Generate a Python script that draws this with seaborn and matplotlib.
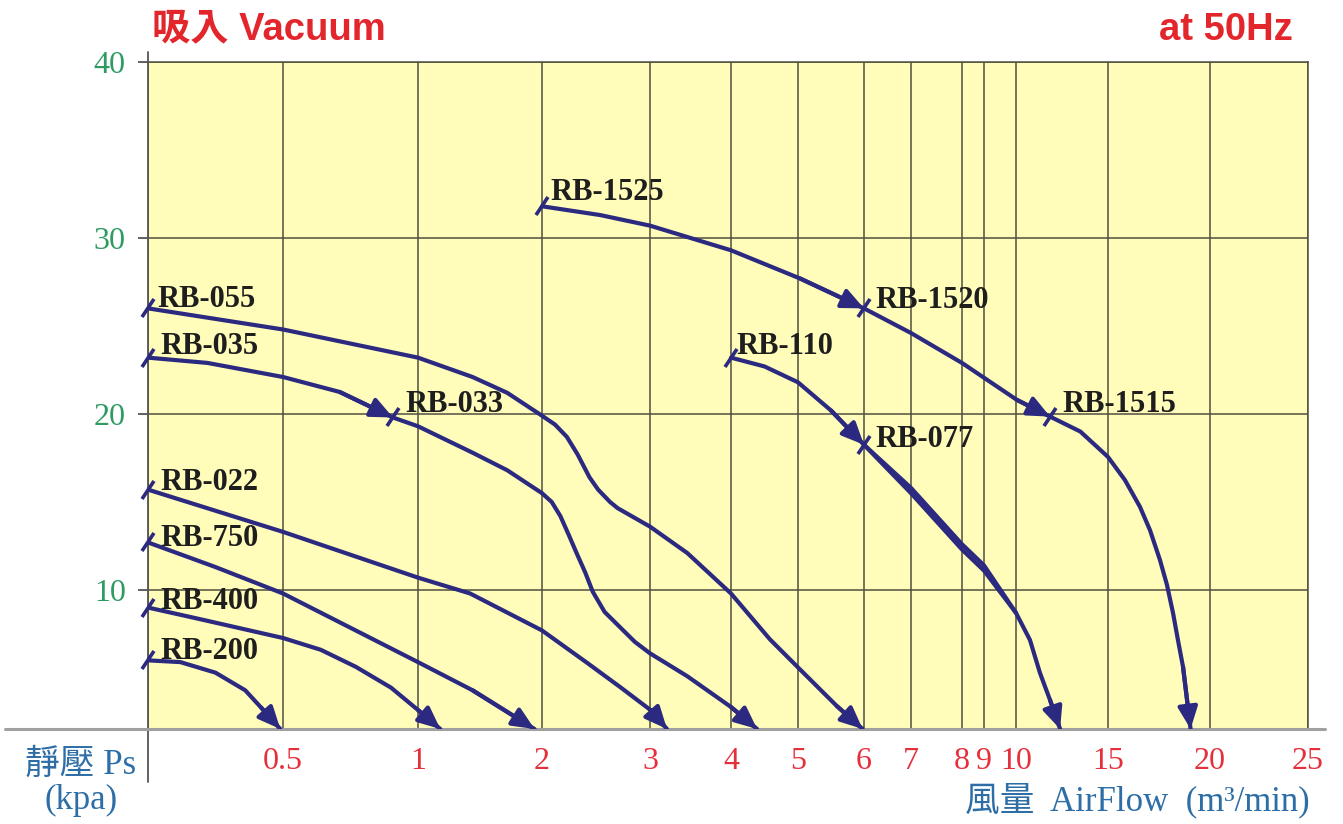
import matplotlib
matplotlib.use("Agg")
import matplotlib.pyplot as plt
import seaborn as sns
import numpy as np
import pandas as pd
from matplotlib.markers import MarkerStyle
from matplotlib.transforms import Affine2D

# airflow axis as printed on the sheet: tick values and their spacing (not a standard scale)
flow_ticks = [0, 0.5, 1, 2, 3, 4, 5, 6, 7, 8, 9, 10, 15, 20, 25]
flow_spacing = [0, 135, 270, 394, 502, 583, 650, 716, 763, 814, 836, 868, 960, 1062, 1160]
flow_labels = ["", "0.5", "1", "2", "3", "4", "5", "6", "7", "8", "9", "10", "15", "20", "25"]
ps_ticks = [10, 20, 30, 40]
ps_labels = ["10", "20", "30", "40"]

# curves: airflow (m3/min) vs static pressure (kPa)
rb055_x = [0, 0.5, 1.0, 1.44, 1.72, 2.0, 2.12, 2.23, 2.33, 2.44, 2.52, 2.63, 2.7, 2.8, 3.0,
           3.46, 4.0, 4.58, 5.0, 5.59, 5.98]
rb055_y = [26.0, 24.8, 23.2, 22.1, 21.2, 19.9, 19.4, 18.7, 17.7, 16.4, 15.7, 15.0, 14.65, 14.3, 13.6,
           12.1, 9.8, 7.2, 5.6, 3.4, 2.1]

rb035_x = [0, 0.22, 0.5, 0.71, 0.907]
rb035_y = [23.2, 22.9, 22.1, 21.25, 19.8]

rb033_x = [0.907, 1.0, 1.44, 1.72, 2.0, 2.09, 2.17, 2.25, 2.32, 2.4, 2.47, 2.58, 2.72, 2.86, 3.0,
           3.46, 4.0, 4.39]
rb033_y = [19.8, 19.3, 17.8, 16.8, 15.5, 15.0, 14.2, 13.1, 12.1, 11.0, 9.9, 8.75, 7.9, 7.05, 6.4,
           5.1, 3.35, 2.1]

rb022_x = [0, 0.5, 1.0, 1.42, 2.0, 2.42, 2.72, 3.0, 3.21]
rb022_y = [15.7, 13.3, 10.7, 9.8, 7.7, 5.85, 4.5, 3.2, 2.1]

rb750_x = [0, 0.25, 0.5, 1.0, 1.44, 1.94]
rb750_y = [12.7, 11.3, 9.8, 5.9, 4.3, 2.1]

rb400_x = [0, 0.19, 0.5, 0.64, 0.77, 0.9, 1.0, 1.18]
rb400_y = [9.0, 8.35, 7.27, 6.6, 5.63, 4.45, 3.18, 2.1]

rb200_x = [0, 0.12, 0.25, 0.36, 0.42, 0.49]
rb200_y = [6.0, 5.9, 5.3, 4.3, 3.3, 2.1]

rb1525_x = [2.0, 2.54, 3.0, 4.0, 5.03, 6.0]
rb1525_y = [31.8, 31.3, 30.7, 29.3, 27.7, 26.0]

rb1520_x = [6.0, 7.0, 8.0, 10.05, 11.85]
rb1520_y = [26.0, 24.6, 22.9, 20.8, 19.85]

rb1515_x = [11.85, 13.5, 15.0, 15.83, 16.57, 17.06, 17.55, 17.89, 18.19, 18.43, 18.68, 19.05]
rb1515_y = [19.85, 19.0, 17.56, 16.25, 14.72, 13.4, 11.7, 10.3, 8.69, 7.16, 5.63, 2.1]

rb110_x = [4.0, 4.5, 5.0, 5.5, 6.0]
rb110_y = [23.2, 22.7, 21.8, 20.2, 18.25]

rb077_x = [6.0, 7.0, 8.0, 9.0, 10.0, 10.76, 11.3, 11.85, 12.4]
rb077_y = [18.25, 15.5, 12.3, 11.1, 8.7, 7.16, 5.3, 3.75, 2.1]
# second stroke drawn next to RB-077 on the sheet
rb077b_x = [6.0, 7.0, 8.0, 9.0, 10.0]
rb077b_y = [18.25, 15.8, 12.6, 11.4, 8.7]

NAVY = "#2b2a80"
YELLOW = "#fffdb9"
GRID = "#4f4f3f"

curves = [
    ("RB-055", rb055_x, rb055_y, (7, 6.5)),
    ("RB-035", rb035_x, rb035_y, (9, 8)),
    ("RB-033", rb033_x, rb033_y, (9, 9)),
    ("RB-022", rb022_x, rb022_y, (9, 5)),
    ("RB-750", rb750_x, rb750_y, (9, 3)),
    ("RB-400", rb400_x, rb400_y, (9, 4)),
    ("RB-200", rb200_x, rb200_y, (9, 6.5)),
    ("RB-1525", rb1525_x, rb1525_y, (6, 10)),
    ("RB-1520", rb1520_x, rb1520_y, (8, 6)),
    ("RB-1515", rb1515_x, rb1515_y, (9, 9)),
    ("RB-110", rb110_x, rb110_y, (4, 8)),
    ("RB-077", rb077_x, rb077_y, (8, 4)),
]

sns.set_theme(style="white")
plt.rcParams["font.family"] = ["Liberation Serif", "Noto Sans CJK TC"]

fig = plt.figure(figsize=(13.43, 8.24), dpi=100)
ax = fig.add_axes([0.1102, 0.1153, 0.8637, 0.8095])
ax.set_facecolor(YELLOW)


def fwd(v):
    return np.interp(v, flow_ticks, flow_spacing)


def inv(p):
    return np.interp(p, flow_spacing, flow_ticks)


ax.set_xscale("function", functions=(fwd, inv))
ax.set_xlim(0, 25)
ax.set_ylim(2.1, 40)

tick_mark = MarkerStyle("|", transform=Affine2D().rotate_deg(-33))

for name, xs, ys, off in curves:
    df = pd.DataFrame({"flow": xs, "ps": ys})
    sns.lineplot(data=df, x="flow", y="ps", ax=ax, color=NAVY, lw=3,
                 sort=False, estimator=None, zorder=4,
                 solid_joinstyle="round", solid_capstyle="round")
    ax.plot(xs[0], ys[0], marker=tick_mark, ms=15, mew=2.6, color=NAVY,
            clip_on=False, zorder=5)
    ax.annotate("", xy=(xs[-1], ys[-1]), xytext=(xs[-2], ys[-2]),
                arrowprops=dict(arrowstyle="-|>,head_length=0.6,head_width=0.27",
                                mutation_scale=22, color=NAVY, lw=3,
                                shrinkA=0, shrinkB=0), zorder=5)
    ax.annotate(name, xy=(xs[0], ys[0]), xytext=off, textcoords="offset points",
                ha="left", va="center", fontsize=22, fontweight="bold",
                color="#1e1e1e", zorder=6)

df_b = pd.DataFrame({"flow": rb077b_x, "ps": rb077b_y})
sns.lineplot(data=df_b, x="flow", y="ps", ax=ax, color=NAVY, lw=3,
             sort=False, estimator=None, zorder=4, solid_joinstyle="round")

ax.set_xticks(flow_ticks)
ax.set_xticklabels(flow_labels)
ax.set_yticks(ps_ticks)
ax.set_yticklabels(ps_labels)
ax.set_xlabel("")
ax.set_ylabel("")
ax.grid(True, color=GRID, lw=1.1)
ax.tick_params(axis="x", length=0, pad=13, labelsize=23, labelcolor="#e5303c")
ax.tick_params(axis="y", length=7, width=1.2, color="#444444", pad=9,
               labelsize=23, labelcolor="#2f9a62", left=True)

for side in ["top", "right"]:
    ax.spines[side].set_color(GRID)
    ax.spines[side].set_linewidth(1.1)
ax.spines["left"].set_visible(False)
ax.spines["bottom"].set_visible(False)
ax.axvline(0, ymin=-0.08, ymax=1.015, color="#555555", lw=1.3, clip_on=False, zorder=3)
ax.axhline(2.1, xmin=-0.123, xmax=1.015, color="#a0a0a0", lw=2.2, clip_on=False, zorder=3)

title_font = ["Liberation Sans", "Noto Sans CJK TC"]
fig.text(0.113, 0.963, "吸入 Vacuum", ha="left", va="center", fontsize=27.5,
         fontweight="bold", color="#e3262c", family=title_font)
fig.text(0.963, 0.963, "at 50Hz", ha="right", va="center", fontsize=27.5,
         fontweight="bold", color="#e3262c", family=title_font)

fig.text(0.06, 0.05, "靜壓 Ps\n(kpa)", ha="center", va="center", fontsize=25,
         color="#2e6ea6", linespacing=1.1, multialignment="center")
fig.text(0.975, 0.029, "風量  AirFlow  (m³/min)", ha="right", va="center",
         fontsize=25, color="#2e6ea6")

fig.savefig("out.png", dpi=100)
